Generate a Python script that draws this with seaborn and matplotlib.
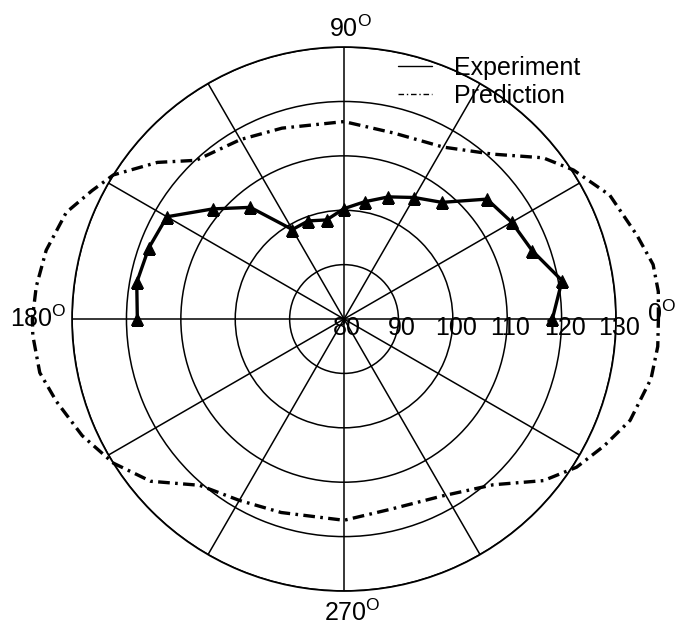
import numpy as np
import matplotlib
matplotlib.use("Agg")
import matplotlib.pyplot as plt
from matplotlib.lines import Line2D
import seaborn as sns

# experiment: measured every 10 deg over the upper half
exp_angle = [0, 10, 20, 30, 40, 50, 60, 70, 80, 90,
             100, 110, 120, 130, 140, 150, 160, 170, 180]
exp_level = [118.3, 120.7, 116.8, 115.6, 114.3, 108.0, 105.8, 103.9, 101.9, 100.3,
             98.5, 99.2, 99.0, 106.8, 111.5, 117.6, 118.2, 118.7, 118.0]

pred_angle = [0, 5, 10, 16, 25, 33, 39, 48, 60, 75, 90,
              108, 120, 133, 140, 148, 153, 159, 167, 174, 180,
              183, 190, 196, 204, 212, 220, 229, 240, 252, 270,
              284, 299, 312, 321, 327.5, 334, 340.5, 349, 355, 360]
pred_level = [137.8, 138.0, 137.7, 136.0, 133.9, 130.3, 127.1, 120.8, 116.5, 115.4, 116.3,
              116.9, 118.1, 119.9, 124.8, 130.0, 132.0, 134.7, 136.2, 136.9, 137.3,
              137.3, 136.8, 135.0, 132.7, 130.0, 126.4, 120.5, 118.5, 117.4, 117.0,
              116.0, 117.2, 121.0, 127.2, 130.7, 133.2, 135.8, 137.5, 137.9, 137.8]

r_ticks = [80, 90, 100, 110, 120, 130]
theta_grid = list(range(0, 360, 30))
angle_labels = {0: "0", 90: "90", 180: "180", 270: "270"}

sns.set_theme(style="white")
plt.rcParams["font.family"] = ["Liberation Sans", "DejaVu Sans"]
plt.rcParams["mathtext.fontset"] = "custom"
plt.rcParams["mathtext.rm"] = "Liberation Sans"
plt.rcParams["text.color"] = "black"

fig = plt.figure(figsize=(6.86, 6.31), dpi=100)
ax = fig.add_axes([0.105, 0.0634, 0.793, 0.862], projection="polar")
ax.set_facecolor("white")

ax.set_ylim(80, 130)
ax.set_xticks(np.deg2rad(theta_grid))
ax.set_yticks(r_ticks[1:])
ax.set_xticklabels([])
ax.set_yticklabels([])
ax.grid(True, color="black", lw=1.1, ls="-")
ax.spines["polar"].set_color("black")
ax.spines["polar"].set_linewidth(1.3)

sns.lineplot(x=np.deg2rad(pred_angle), y=pred_level, ax=ax, color="black",
             lw=2.4, linestyle=(0, (3.5, 1.6, 0.8, 1.6)), sort=False,
             estimator=None, clip_on=False)
sns.lineplot(x=np.deg2rad(exp_angle), y=exp_level, ax=ax, color="black",
             lw=2.4, marker="^", markersize=8, markeredgecolor="black",
             markerfacecolor="black", sort=False, estimator=None)
ax.set_xlabel("")
ax.set_ylabel("")

# radial value labels along the 0 deg spoke
for v in r_ticks:
    ax.annotate(str(v), xy=(0, v), xytext=(3, 3), textcoords="offset pixels",
                ha="center", va="top", fontsize=18, color="black")

# angle labels with the raised "o"
offsets = {0: ((31, -3), "left", "baseline"),
           90: ((6, 5), "center", "bottom"),
           180: ((-5, -8), "right", "baseline"),
           270: ((8, -9), "center", "top")}
for ang, txt in angle_labels.items():
    off, ha, va = offsets[ang]
    ax.annotate(txt + r"$^{\mathrm{O}}$", xy=(np.deg2rad(ang), 130), xytext=off,
                textcoords="offset pixels", ha=ha, va=va, fontsize=18,
                color="black", annotation_clip=False)

handles = [Line2D([], [], color="black", lw=1),
           Line2D([], [], color="black", lw=1, ls=(0, (4, 2, 1, 2)))]
fig.legend(handles=handles, labels=["Experiment", "Prediction"], loc="upper left",
           bbox_to_anchor=(398 / 686, 1 - 56 / 631), frameon=False, fontsize=18,
           labelcolor="black", handlelength=1.35, handletextpad=0.9,
           labelspacing=0.15, borderpad=0, borderaxespad=0)

fig.savefig("out.png", dpi=100)
